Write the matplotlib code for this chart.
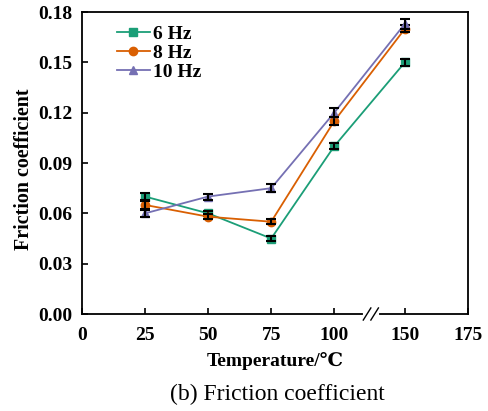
import numpy as np
import matplotlib
matplotlib.use('Agg')
import matplotlib.pyplot as plt

plt.rcParams['font.family'] = ['Liberation Serif', 'DejaVu Serif']
plt.rcParams['font.weight'] = 'bold'

temps = [25, 50, 75, 100, 150]
f6 = [0.070, 0.060, 0.045, 0.100, 0.150]
f8 = [0.065, 0.058, 0.055, 0.115, 0.170]
f10 = [0.060, 0.070, 0.075, 0.120, 0.173]
e6 = [0.002, 0.0015, 0.0015, 0.0018, 0.002]
e8 = [0.0025, 0.0015, 0.0015, 0.0022, 0.002]
e10 = [0.002, 0.0018, 0.0025, 0.0026, 0.003]
labels = ['6 Hz', '8 Hz', '10 Hz']
xticks = [0, 25, 50, 75, 100, 150, 175]
yticks = [0.00, 0.03, 0.06, 0.09, 0.12, 0.15, 0.18]

# axis is broken between 100 and 150; values past the gap are shifted left
gap = 22


def xpos(t):
    t = np.asarray(t, dtype=float)
    return np.where(t > 100, t - gap, t)


colors = ['#1b9e77', '#d95f02', '#7570b3']
markers = ['s', 'o', '^']

fig = plt.figure(figsize=(4.89, 4.11), dpi=100)
ax = fig.add_axes([0.1677, 0.236, 0.7893, 0.7348])

for y, e, c, m, lab in zip([f6, f8, f10], [e6, e8, e10], colors, markers, labels):
    ax.plot(xpos(temps), y, color=c, lw=1.3, marker=m, ms=6, label=lab)
    ax.errorbar(xpos(temps), y, yerr=e, fmt='none', ecolor='black',
                elinewidth=1.5, capsize=3.5, capthick=1.5)

ax.set_xlim(0, 175 - gap)
ax.set_ylim(0, 0.18)
ax.set_xticks(xpos(xticks))
ax.set_xticklabels([str(t) for t in xticks])
ax.set_yticks(yticks)
ax.set_yticklabels(['%.2f' % v for v in yticks])
ax.tick_params(direction='in', length=4, width=1.2, labelsize=14)
ax.tick_params(axis='x', pad=9)
ax.tick_params(axis='y', pad=7)
for s in ax.spines.values():
    s.set_linewidth(1.3)

# break marks on the bottom axis
xb = 114.5
ax.plot([xb - 2.5, xb + 2.5], [0, 0], color='white', lw=3,
        transform=ax.get_xaxis_transform(), clip_on=False, zorder=5)
for dx in (-1.5, 1.5):
    ax.plot([xb + dx - 1.5, xb + dx + 1.5], [-0.02, 0.02], color='black', lw=1,
            transform=ax.get_xaxis_transform(), clip_on=False, zorder=6)

ax.set_xlabel('Temperature/\u2103', fontsize=14, fontweight='bold', labelpad=6)
ax.set_ylabel('Friction coefficient', fontsize=14.4, fontweight='bold')
ax.yaxis.set_label_coords(-0.125, 0.48)

ax.legend(loc='upper left', bbox_to_anchor=(0.06, 0.995), frameon=False,
          fontsize=14, handlelength=1.7, handletextpad=0.15, labelspacing=0.08,
          borderaxespad=0.2)

fig.text(0.567, 0.04, '(b) Friction coefficient', ha='center', va='center',
         fontsize=17, fontweight='normal')

fig.savefig('out.png', dpi=100)
